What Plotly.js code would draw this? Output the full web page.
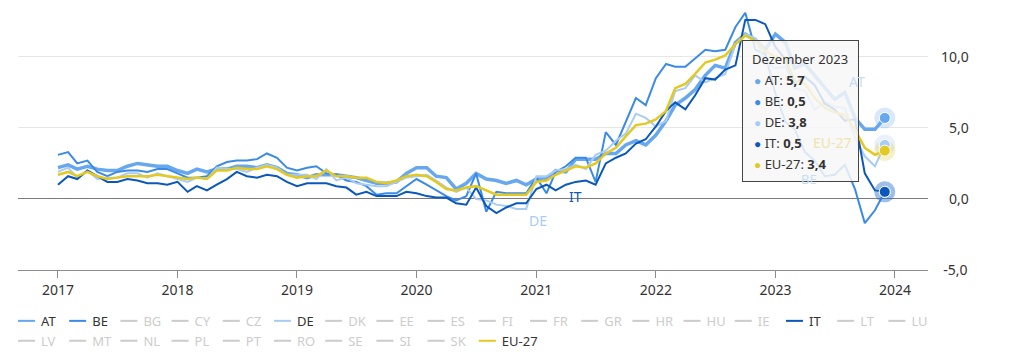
<!DOCTYPE html>
<html>
<head>
<meta charset="utf-8">
<script src="https://cdn.plot.ly/plotly-3.0.1.min.js"></script>
<style>
  html, body { margin: 0; padding: 0; background: #ffffff; }
  #chart { width: 1022px; height: 356px; }
</style>
</head>
<body>
<div id="chart"></div>
<script>
// ---------- data ----------
const years = [2017, 2018, 2019, 2020, 2021, 2022, 2023];
const monthNumbers = ['01','02','03','04','05','06','07','08','09','10','11','12'];
const months = [];
years.forEach(y => monthNumbers.forEach(m => months.push(y + '-' + m + '-01')));

const AT = [
  2.2, 2.4, 2.1, 2.3, 2.1, 2.0, 2.0, 2.3, 2.5, 2.4, 2.3, 2.3,
  2.0, 1.8, 2.1, 1.9, 2.1, 2.1, 2.3, 2.3, 2.2, 2.4, 2.2, 1.8,
  1.7, 1.5, 1.7, 1.7, 1.7, 1.6, 1.5, 1.3, 1.1, 1.1, 1.2, 1.8,
  2.2, 2.2, 1.6, 1.5, 0.7, 1.1, 1.8, 1.4, 1.3, 1.1, 1.3, 1.0,
  1.4, 1.4, 2.0, 1.9, 2.8, 2.8, 2.8, 3.2, 3.2, 3.8, 4.1, 3.8,
  4.5, 5.5, 6.6, 7.1, 7.7, 8.7, 9.4, 9.2, 11.0, 11.6, 11.2, 10.5,
  11.6, 11.0, 9.2, 9.5, 8.7, 7.8, 7.0, 7.5, 5.7, 4.9, 4.9, 5.7
];
const BE = [
  3.1, 3.3, 2.5, 2.7, 1.9, 1.6, 1.9, 2.0, 2.0, 1.9, 2.1, 2.1,
  1.8, 1.5, 1.5, 1.6, 2.3, 2.6, 2.7, 2.7, 2.8, 3.2, 2.9, 2.2,
  2.0, 2.2, 2.3, 1.8, 1.7, 1.3, 1.2, 0.9, 0.3, 0.4, 0.4, 0.9,
  1.4, 1.0, 0.6, 0.2, -0.1, 0.2, 1.8, -0.9, 0.5, 0.4, 0.4, 0.4,
  1.5, 0.4, 1.9, 2.3, 2.9, 2.9, 1.2, 4.7, 3.8, 5.4, 7.1, 6.6,
  8.5, 9.5, 9.3, 9.3, 9.9, 10.5, 10.4, 10.5, 12.1, 13.1, 10.5, 10.2,
  7.4, 5.4, 4.9, 3.3, 2.7, 1.6, 1.7, 2.4, 0.7, -1.7, -0.8, 0.5
];
const DE = [
  1.9, 2.2, 1.5, 2.0, 1.4, 1.5, 1.5, 1.8, 1.8, 1.5, 1.8, 1.6,
  1.4, 1.2, 1.5, 1.4, 2.2, 2.1, 2.1, 1.9, 2.2, 2.4, 2.2, 1.7,
  1.7, 1.7, 1.4, 2.1, 1.3, 1.5, 1.1, 1.0, 0.9, 0.9, 1.2, 1.5,
  1.6, 1.7, 1.3, 0.8, 0.5, 0.8, 0.0, -0.1, -0.4, -0.5, -0.7, -0.7,
  1.6, 1.6, 2.0, 2.1, 2.4, 2.1, 3.1, 3.4, 4.1, 4.6, 6.0, 5.7,
  5.1, 5.5, 7.6, 7.8, 8.7, 8.2, 8.5, 8.8, 10.9, 11.6, 11.3, 9.6,
  9.2, 9.3, 7.8, 7.6, 6.3, 6.8, 6.5, 6.4, 4.3, 3.0, 2.3, 3.8
];
const IT = [
  1.0, 1.6, 1.4, 2.0, 1.6, 1.2, 1.2, 1.4, 1.3, 1.1, 1.1, 1.0,
  1.2, 0.5, 0.9, 0.6, 1.0, 1.4, 1.9, 1.6, 1.5, 1.7, 1.6, 1.2,
  0.9, 1.1, 1.1, 1.1, 0.9, 0.8, 0.3, 0.5, 0.2, 0.2, 0.2, 0.5,
  0.4, 0.2, 0.1, 0.1, -0.3, -0.4, 0.8, -0.5, -1.0, -0.6, -0.3, -0.3,
  0.7, 1.0, 0.6, 1.0, 1.2, 1.3, 1.0, 2.5, 2.9, 3.2, 3.9, 4.2,
  5.1, 6.2, 6.8, 6.3, 7.3, 8.5, 8.4, 9.1, 9.4, 12.6, 12.6, 12.3,
  10.7, 9.8, 8.1, 8.6, 8.0, 6.7, 6.3, 5.5, 5.6, 1.8, 0.6, 0.5
];
const EU27 = [
  1.7, 1.9, 1.6, 1.9, 1.6, 1.4, 1.5, 1.6, 1.6, 1.6, 1.7, 1.6,
  1.5, 1.4, 1.5, 1.4, 2.0, 2.0, 2.2, 2.1, 2.1, 2.3, 2.1, 1.7,
  1.5, 1.6, 1.6, 2.0, 1.6, 1.6, 1.5, 1.5, 1.2, 1.1, 1.3, 1.6,
  1.7, 1.6, 1.2, 0.7, 0.6, 0.8, 0.9, 0.6, 0.3, 0.3, 0.3, 0.3,
  1.2, 1.3, 1.7, 2.0, 2.3, 2.2, 2.5, 3.2, 3.6, 4.4, 5.2, 5.3,
  5.6, 6.2, 7.8, 8.1, 8.8, 9.6, 9.8, 10.1, 10.9, 11.5, 11.1, 10.4,
  10.0, 9.9, 8.3, 8.1, 7.1, 6.4, 6.1, 5.9, 4.9, 3.6, 3.1, 3.4
];

const legendOrder = ['AT','BE','BG','CY','CZ','DE','DK','EE','ES','FI','FR','GR','HR','HU','IE',
                     'IT','LT','LU','LV','MT','NL','PL','PT','RO','SE','SI','SK','EU-27'];
const shownSeries = { 'AT': AT, 'BE': BE, 'DE': DE, 'IT': IT, 'EU-27': EU27 };
const seriesColors = { 'AT': '#66a7ee', 'BE': '#3b8be6', 'DE': '#a9ccf4', 'IT': '#0b58bb', 'EU-27': '#e3c922' };
const seriesWidths = { 'AT': 3.5, 'BE': 2, 'DE': 2, 'IT': 2, 'EU-27': 2.5 };
const drawOrder = ['AT','BE','DE','IT','EU-27'];

const xTickLabelFormat = '%Y';
const yTickVals = [-5, 0, 5, 10];
const yTickText = ['\u2009-5,0', '\u20070,0', '\u20075,0', '10,0'];
const tooltipTitle = 'Dezember 2023';

// ---------- traces ----------
const traces = [];
legendOrder.forEach(name => {
  const vals = shownSeries[name];
  if (vals) {
    traces.push({
      type: 'scatter', mode: 'lines', name: name,
      x: months, y: vals,
      line: { color: seriesColors[name], width: seriesWidths[name] },
      hoverinfo: 'skip'
    });
  } else {
    traces.push({
      type: 'scatter', mode: 'lines',
      name: '<span style="color:#9a9a9a">' + name + '</span>',
      x: [null], y: [null],
      visible: 'legendonly',
      line: { color: '#9a9a9a', width: 2 },
      hoverinfo: 'skip'
    });
  }
});

// hover-state markers at the last month
const lastIdx = months.length - 1;
drawOrder.forEach(name => {
  const vals = shownSeries[name];
  traces.push({
    type: 'scatter', mode: 'markers', showlegend: false, hoverinfo: 'skip',
    x: [months[lastIdx]], y: [vals[lastIdx]],
    marker: { size: 21, color: seriesColors[name], opacity: 0.25, line: { width: 0 } }
  });
});
drawOrder.forEach(name => {
  const vals = shownSeries[name];
  traces.push({
    type: 'scatter', mode: 'markers', showlegend: false, hoverinfo: 'skip',
    x: [months[lastIdx]], y: [vals[lastIdx]],
    marker: { size: 11, color: seriesColors[name], line: { width: 1, color: '#ffffff' } }
  });
});

// ---------- annotations ----------
const fmt = v => v.toFixed(1).replace('.', ',');
const L = 18, W = 910, H = 270;
const px = x => (x - L) / W;
const py = y => 1 - y / H;

const annotations = [
  { xref: 'x', yref: 'y', x: '2021-05-01', y: 0.15, text: 'IT', showarrow: false,
    font: { family: 'Noto Sans', size: 14, color: seriesColors['IT'] } },
  { xref: 'x', yref: 'y', x: '2021-01-05', y: -1.55, text: 'DE', showarrow: false,
    font: { family: 'Noto Sans', size: 14, color: seriesColors['DE'] } },
  // tooltip box
  { xref: 'paper', yref: 'paper', x: px(742), y: py(40), xanchor: 'left', yanchor: 'top',
    text: ' ', showarrow: false, width: 113, height: 138,
    bgcolor: 'rgba(247,247,247,0.85)', bordercolor: '#444444', borderwidth: 1, borderpad: 1 },
  // series labels seen faintly through the tooltip
  { xref: 'x', yref: 'y', x: '2023-09-06', y: 8.3, text: 'AT', showarrow: false,
    font: { family: 'Noto Sans', size: 14, color: '#c6ddf7' } },
  { xref: 'x', yref: 'y', x: '2023-06-24', y: 4.0, text: 'EU-27', showarrow: false,
    font: { family: 'Noto Sans', size: 14, color: '#efe4ad' } },
  { xref: 'x', yref: 'y', x: '2023-04-15', y: 1.4, text: 'BE', showarrow: false,
    font: { family: 'Noto Sans', size: 13, color: '#c6ddf7' } },
  { xref: 'paper', yref: 'paper', x: px(750), y: py(58.5), xanchor: 'left', yanchor: 'middle',
    text: tooltipTitle, showarrow: false,
    font: { family: 'Noto Sans', size: 13, color: '#333333' } }
];
const rowY = [80, 101, 122, 143, 164];
drawOrder.forEach((name, i) => {
  const vals = shownSeries[name];
  annotations.push({
    xref: 'paper', yref: 'paper', x: px(752), y: py(rowY[i]), xanchor: 'left', yanchor: 'middle',
    showarrow: false,
    text: '<span style="color:' + seriesColors[name] + ';font-size:12px">\u25CF</span> ' + name + ': <b>' + fmt(vals[lastIdx]) + '</b>',
    font: { family: 'Noto Sans', size: 13, color: '#333333' }
  });
});

// ---------- layout ----------
const layout = {
  width: 1022, height: 356,
  margin: { l: L, r: 94, t: 0, b: 86 },
  paper_bgcolor: '#ffffff', plot_bgcolor: '#ffffff',
  font: { family: 'Noto Sans, sans-serif', size: 13, color: '#333333' },
  separators: ',.',
  showlegend: true,
  hovermode: false,
  xaxis: {
    type: 'date',
    range: ['2016-09-01', '2024-04-11'],
    tick0: '2017-01-01', dtick: 'M12', tickformat: xTickLabelFormat,
    showgrid: false, zeroline: false,
    showline: true, linecolor: '#8c8c8c', linewidth: 1,
    ticks: 'outside', ticklen: 7, tickcolor: '#8c8c8c', tickwidth: 1,
    tickfont: { family: 'Noto Sans', size: 14, color: '#333333' },
    fixedrange: true
  },
  yaxis: {
    side: 'right',
    range: [-5, 14],
    tickmode: 'array', tickvals: yTickVals, ticktext: yTickText,
    showgrid: true, gridcolor: '#e6e6e6', gridwidth: 1,
    zeroline: true, zerolinecolor: '#7a7a7a', zerolinewidth: 1,
    showline: false, ticks: '',
    ticklabelstandoff: 12,
    tickfont: { family: 'Noto Sans', size: 14, color: '#333333' },
    fixedrange: true
  },
  legend: {
    orientation: 'h',
    x: -0.0187, xanchor: 'left',
    y: -0.133, yanchor: 'top',
    entrywidth: 6.2, entrywidthmode: 'pixels',
    traceorder: 'normal',
    font: { family: 'Noto Sans', size: 13, color: '#333333' },
    bgcolor: 'rgba(0,0,0,0)'
  },
  annotations: annotations
};

Plotly.newPlot('chart', traces, layout, { staticPlot: true, displayModeBar: false }).then(gd => {
  // shorter legend line symbols, as in the reference legend
  gd.querySelectorAll('.legend .legendlines path').forEach(p => {
    p.setAttribute('d', 'M17,0h17');
    p.style.strokeWidth = '2px';
  });
  // let the last legend label in a row show in full
  gd.querySelectorAll('.legend .scrollbox, .legend').forEach(el => el.removeAttribute('clip-path'));
});
</script>
</body>
</html>
